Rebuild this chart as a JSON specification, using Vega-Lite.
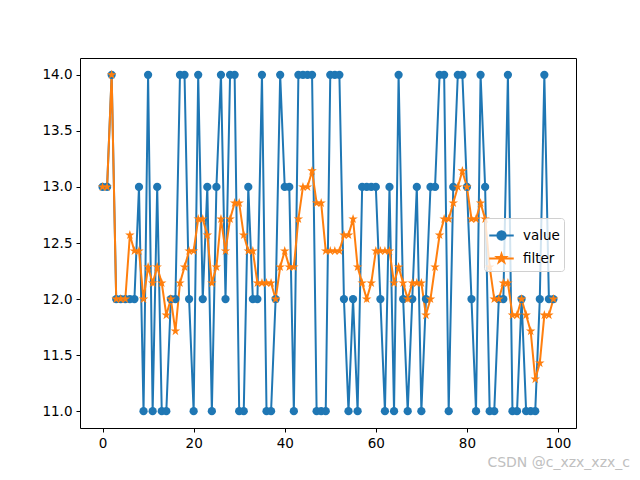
{
  "$schema": "https://vega.github.io/schema/vega-lite/v6.json",
  "autosize": {"type": "none"},
  "width": 496,
  "height": 370,
  "padding": {"left": 80, "top": 58, "right": 64, "bottom": 52},
  "background": "white",
  "title": {"text": "CSDN @c_xzx_xzx_c", "orient": "bottom", "anchor": "end", "color": "#c0c0c0", "fontSize": 14, "fontWeight": "normal", "font": "DejaVu Sans", "offset": 6, "dx": 54},
  "config": {
    "view": {"stroke": "black", "strokeWidth": 1},
    "font": "DejaVu Sans",
    "axis": {"grid": false, "domain": false, "tickColor": "black", "tickSize": 4, "tickWidth": 1, "labelColor": "black", "labelFontSize": 13.5, "labelFont": "DejaVu Sans", "labelPadding": 4, "title": null}
  },
  "data": {"values": [
    {"i":0,"value":13,"filter":13},{"i":1,"value":13,"filter":13},{"i":2,"value":14,"filter":14},{"i":3,"value":12,"filter":12},{"i":4,"value":12,"filter":12},
    {"i":5,"value":12,"filter":12},{"i":6,"value":12,"filter":12.571},{"i":7,"value":12,"filter":12.429},{"i":8,"value":13,"filter":12.429},{"i":9,"value":11,"filter":12.0},
    {"i":10,"value":14,"filter":12.286},{"i":11,"value":11,"filter":12.143},{"i":12,"value":13,"filter":12.286},{"i":13,"value":11,"filter":12.143},{"i":14,"value":11,"filter":11.857},
    {"i":15,"value":12,"filter":12.0},{"i":16,"value":12,"filter":11.714},{"i":17,"value":14,"filter":12.143},{"i":18,"value":14,"filter":12.286},{"i":19,"value":12,"filter":12.429},
    {"i":20,"value":11,"filter":12.429},{"i":21,"value":14,"filter":12.714},{"i":22,"value":12,"filter":12.714},{"i":23,"value":13,"filter":12.571},{"i":24,"value":11,"filter":12.143},
    {"i":25,"value":13,"filter":12.286},{"i":26,"value":14,"filter":12.714},{"i":27,"value":12,"filter":12.429},{"i":28,"value":14,"filter":12.714},{"i":29,"value":14,"filter":12.857},
    {"i":30,"value":11,"filter":12.857},{"i":31,"value":11,"filter":12.571},{"i":32,"value":13,"filter":12.429},{"i":33,"value":12,"filter":12.429},{"i":34,"value":12,"filter":12.143},
    {"i":35,"value":14,"filter":12.143},{"i":36,"value":11,"filter":12.143},{"i":37,"value":11,"filter":12.143},{"i":38,"value":12,"filter":12.0},{"i":39,"value":14,"filter":12.286},
    {"i":40,"value":13,"filter":12.429},{"i":41,"value":13,"filter":12.286},{"i":42,"value":11,"filter":12.286},{"i":43,"value":14,"filter":12.714},{"i":44,"value":14,"filter":13.0},
    {"i":45,"value":14,"filter":13.0},{"i":46,"value":14,"filter":13.143},{"i":47,"value":11,"filter":12.857},{"i":48,"value":11,"filter":12.857},{"i":49,"value":11,"filter":12.429},
    {"i":50,"value":14,"filter":12.429},{"i":51,"value":14,"filter":12.429},{"i":52,"value":14,"filter":12.429},{"i":53,"value":12,"filter":12.571},{"i":54,"value":11,"filter":12.571},
    {"i":55,"value":12,"filter":12.714},{"i":56,"value":11,"filter":12.286},{"i":57,"value":13,"filter":12.143},{"i":58,"value":13,"filter":12.0},{"i":59,"value":13,"filter":12.143},
    {"i":60,"value":13,"filter":12.429},{"i":61,"value":12,"filter":12.429},{"i":62,"value":11,"filter":12.429},{"i":63,"value":13,"filter":12.429},{"i":64,"value":11,"filter":12.143},
    {"i":65,"value":14,"filter":12.286},{"i":66,"value":12,"filter":12.143},{"i":67,"value":11,"filter":12.0},{"i":68,"value":12,"filter":12.143},{"i":69,"value":13,"filter":12.143},
    {"i":70,"value":11,"filter":12.143},{"i":71,"value":12,"filter":11.857},{"i":72,"value":13,"filter":12.0},{"i":73,"value":13,"filter":12.286},{"i":74,"value":14,"filter":12.571},
    {"i":75,"value":14,"filter":12.714},{"i":76,"value":11,"filter":12.714},{"i":77,"value":13,"filter":12.857},{"i":78,"value":14,"filter":13.0},{"i":79,"value":14,"filter":13.143},
    {"i":80,"value":13,"filter":13.0},{"i":81,"value":12,"filter":12.714},{"i":82,"value":11,"filter":12.714},{"i":83,"value":14,"filter":12.857},{"i":84,"value":13,"filter":12.714},
    {"i":85,"value":11,"filter":12.286},{"i":86,"value":11,"filter":12.0},{"i":87,"value":12,"filter":12.0},{"i":88,"value":12,"filter":12.143},{"i":89,"value":14,"filter":12.143},
    {"i":90,"value":11,"filter":11.857},{"i":91,"value":11,"filter":11.857},{"i":92,"value":12,"filter":12.0},{"i":93,"value":11,"filter":11.857},{"i":94,"value":11,"filter":11.714},
    {"i":95,"value":11,"filter":11.286},{"i":96,"value":12,"filter":11.429},{"i":97,"value":14,"filter":11.857},{"i":98,"value":12,"filter":11.857},{"i":99,"value":12,"filter":12.0}
  ]},
  "transform": [{"fold": ["value", "filter"], "as": ["series", "y"]}],
  "encoding": {
    "x": {"field": "i", "type": "quantitative", "scale": {"domain": [-4.95, 103.95], "nice": false, "zero": false}, "axis": {"values": [0, 20, 40, 60, 80, 100]}},
    "y": {"field": "y", "type": "quantitative", "scale": {"domain": [10.85, 14.15], "nice": false, "zero": false}, "axis": {"values": [11, 11.5, 12, 12.5, 13, 13.5, 14], "format": ".1f"}}
  },
  "layer": [
    {
      "mark": {"type": "line", "strokeWidth": 2},
      "encoding": {
        "color": {"field": "series", "type": "nominal", "scale": {"domain": ["value", "filter"], "range": ["#1f77b4", "#ff7f0e"]}, "legend": {"title": null, "orient": "none", "legendX": 404, "legendY": 160, "symbolType": "stroke", "symbolSize": 600, "symbolStrokeWidth": 2, "labelFontSize": 13.5, "labelFont": "DejaVu Sans", "labelColor": "black", "fillColor": "rgba(255,255,255,0.8)", "strokeColor": "#d0d0d0", "cornerRadius": 3, "padding": 4, "rowPadding": 1, "labelOffset": 8,
          "encode": {"symbols": {"update": {
            "shape": {"signal": "datum.value === 'value' ? 'M-1,0L1,0M0.34,0L0.3141,0.1301L0.2404,0.2404L0.1301,0.3141L0,0.34L-0.1301,0.3141L-0.2404,0.2404L-0.3141,0.1301L-0.34,0L-0.3141,-0.1301L-0.2404,-0.2404L-0.1301,-0.3141L0,-0.34L0.1301,-0.3141L0.2404,-0.2404L0.3141,-0.1301Z' : 'M-1,0L1,0M0,-0.37L0.0831,-0.1143L0.3519,-0.1143L0.1344,0.0437L0.2175,0.2993L0,0.1413L-0.2175,0.2993L-0.1344,0.0437L-0.3519,-0.1143L-0.0831,-0.1143Z'"},
            "fill": {"signal": "datum.value === 'value' ? '#1f77b4' : '#ff7f0e'"},
            "fillOpacity": {"value": 1}
          }}}}}
      }
    },
    {
      "transform": [{"filter": "datum.series == 'value'"}],
      "mark": {"type": "point", "shape": "circle", "filled": true, "opacity": 1, "size": 68, "color": "#1f77b4"},
      "encoding": {}
    },
    {
      "transform": [{"filter": "datum.series == 'filter'"}],
      "mark": {"type": "point", "shape": "M0,-1L0.2245,-0.309L0.9511,-0.309L0.3633,0.118L0.5878,0.809L0,0.382L-0.5878,0.809L-0.3633,0.118L-0.9511,-0.309L-0.2245,-0.309Z", "filled": true, "opacity": 1, "size": 100, "color": "#ff7f0e"},
      "encoding": {}
    }
  ]
}
